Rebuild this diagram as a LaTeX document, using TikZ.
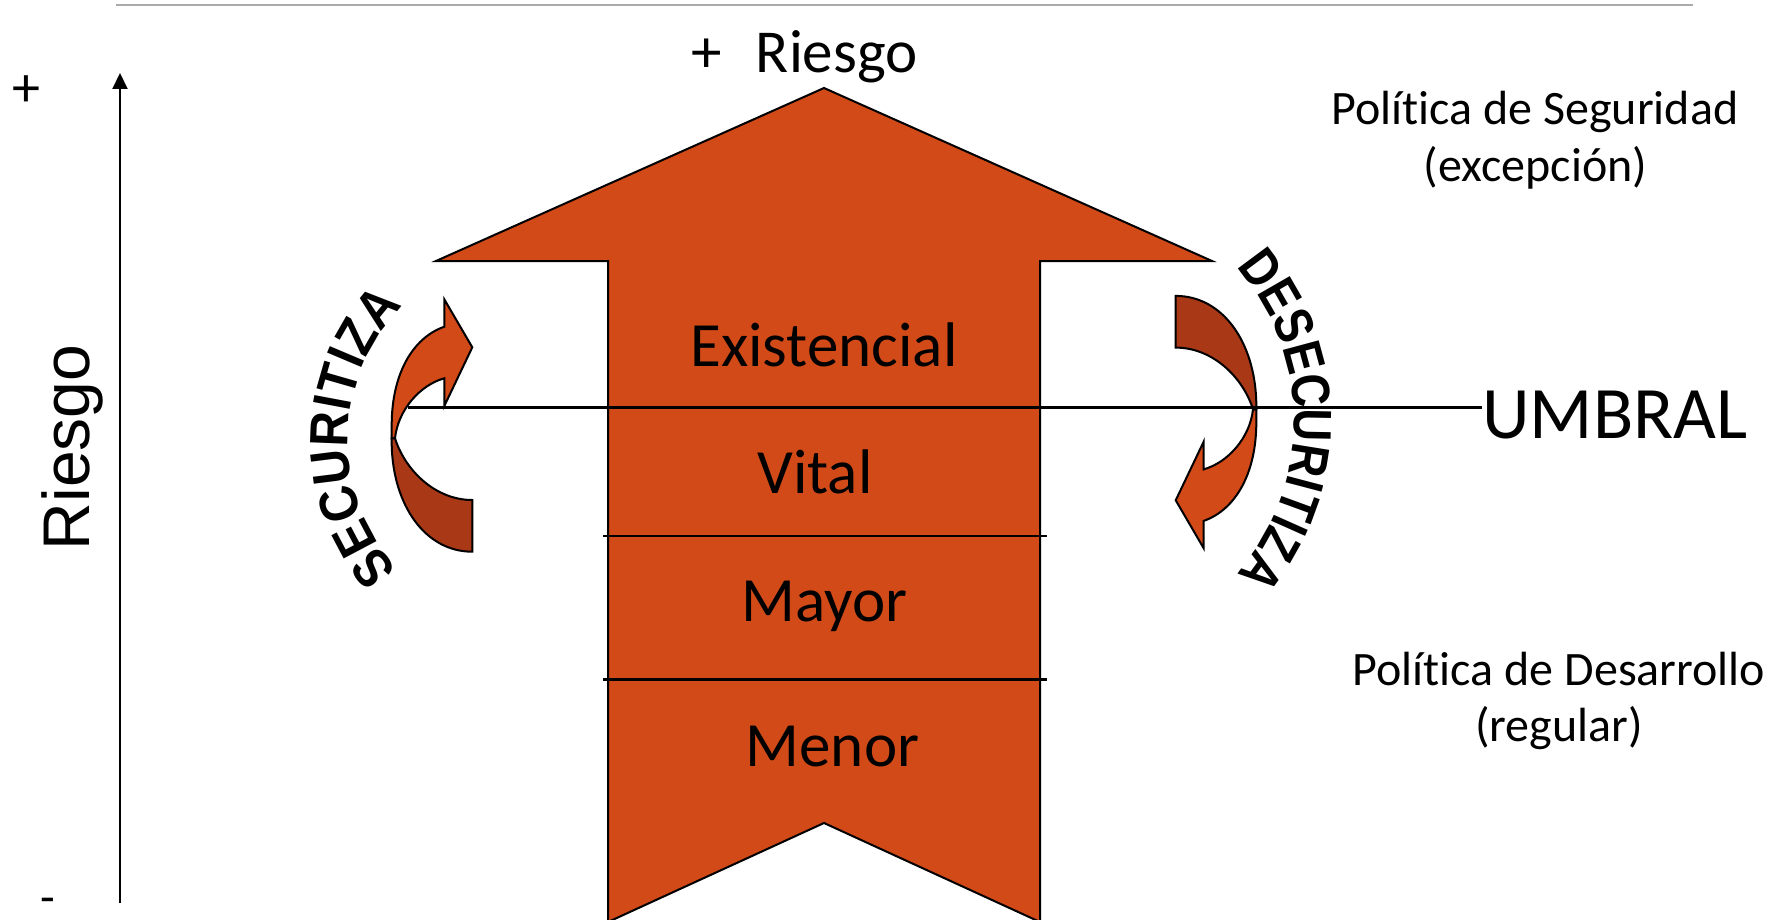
\documentclass[tikz,border=0pt]{standalone}
\usepackage{fontspec}
\setmainfont{Carlito}[Ligatures={NoCommon,NoContextual}]
\newfontfamily\arialfont{Liberation Sans}
\newfontfamily\wordartfont{Liberation Sans}[FakeStretch=0.9]
\newfontfamily\wordartnarrow{Liberation Sans}[FakeStretch=0.84]
\usetikzlibrary{decorations.text,arrows.meta}
\definecolor{arrowfill}{RGB}{209,74,24}
\definecolor{darkfill}{RGB}{169,57,22}
\definecolor{rulegray}{RGB}{170,170,170}
\newcommand{\secfont}{\wordartfont\bfseries\fontsize{27}{32}\selectfont}
\newcommand{\desecfont}{\wordartnarrow\bfseries\fontsize{27}{32}\selectfont}
\newcommand{\curlarrowshape}{%
  \draw[curl, fill=arrowfill] (444.3,326.7) -- (444.3,299.3) -- (472.3,347.3) -- (444.3,406) -- (444.3,378.3)
     .. controls (420,385) and (398,410) .. (395,438.3) -- (391.7,438.3) -- (391.7,425)
     .. controls (391.7,375) and (412,338) .. (444.3,326.7) -- cycle;
  \draw[curl, fill=darkfill] (391.7,438.3) -- (391.7,445)
     .. controls (393,505) and (425,551.7) .. (472.3,551.7) -- (472.3,500)
     .. controls (435,500) and (405,470) .. (395,438.3) -- cycle;
}
\begin{document}
\begin{tikzpicture}[x=0.5pt,y=-0.5pt,
  curl/.style={draw=black, line width=1pt, line join=miter},
  bigarrow/.style={draw=black, fill=arrowfill, line width=1pt, line join=miter},
  level/.style={anchor=base, inner sep=0pt, font=\fontsize{31.5}{38}\selectfont},
  policy/.style={anchor=base, inner sep=0pt, font=\fontsize{24}{29}\selectfont},
  thinline/.style={line width=1.3pt},
  arctext/.style 2 args={font=#1, decorate, decoration={text along path, text align=center, text={|#1|#2}}}]
\useasboundingbox (0,0) rectangle (1785,920);
% top rule
\coordinate (ruleL) at (116,5);
\coordinate (ruleR) at (1693,5);
\draw[rulegray, line width=1.2pt] (ruleL) -- (ruleR);
% vertical axis
\coordinate (axB) at (120,903);
\coordinate (axT) at (120,73);
\draw[line width=1pt, -{Triangle[length=8pt,width=7.5pt]}] (axB) -- (axT);
\node[inner sep=0pt, font=\fontsize{28}{34}\selectfont] (plusL) at (26.5,91.5) {+};
\node[inner sep=0pt, font=\fontsize{24}{29}\selectfont] (minusL) at (48,906) {-};
\node[rotate=90, anchor=base, inner sep=0pt, font=\arialfont\fontsize{33}{40}\selectfont] (riesgoL) at (90,447.5) {Riesgo};
% big arrow
\draw[bigarrow] (824,88) -- (1212,261) -- (1040,261) -- (1040,922) -- (824,823) -- (608,922) -- (608,261) -- (436,261) -- cycle;
\node[anchor=base west, inner sep=0pt, font=\fontsize{30.5}{36}\selectfont] (riesgoT) at (691,73) {+\hspace{0.56em}Riesgo};
% level separators
\coordinate (l1L) at (603,536); \coordinate (l1R) at (1047,536);
\coordinate (l2L) at (603,679.3); \coordinate (l2R) at (1047,679.3);
\draw[thinline] (l1L) -- (l1R);
\draw[thinline] (l2L) -- (l2R);
% level labels
\node[level] (existencial) at (824,366) {Existencial};
\node[level] (vital) at (815,493.3) {Vital};
\node[level] (mayor) at (824.7,621.7) {Mayor};
\node[level] (menor) at (832.5,766) {Menor};
% curved arrows
\curlarrowshape
\begin{scope}[rotate around={180:(824,423.8)}]
\curlarrowshape
\end{scope}
% umbral line
\node[anchor=base west, inner sep=0pt, font=\fontsize{37}{44}\selectfont] (umbral) at (1482,438.3) {UMBRAL};
\coordinate (umbL) at (408,407.7);
\draw[thinline] (umbL) -- (umbL -| umbral.west);
% arc texts
\path[arctext={\secfont}{SECURITIZA}] plot[domain=120:242, samples=90] ({540+192*cos(\x)},{440+192*sin(\x)});
\path[arctext={\desecfont}{DESECURITIZA}] plot[domain=-60.2:59.8, samples=90] ({1060+234*cos(\x)},{421+234*sin(\x)});
% policy texts
\node[policy] (segur) at (1535,125) {Política de Seguridad};
\node[policy] (excep) at (1535.5,181.7) {(excepción)};
\node[policy] (desarr) at (1559,685) {Política de Desarrollo};
\node[policy] (regul) at (1559,741.7) {(regular)};
\end{tikzpicture}
\end{document}
